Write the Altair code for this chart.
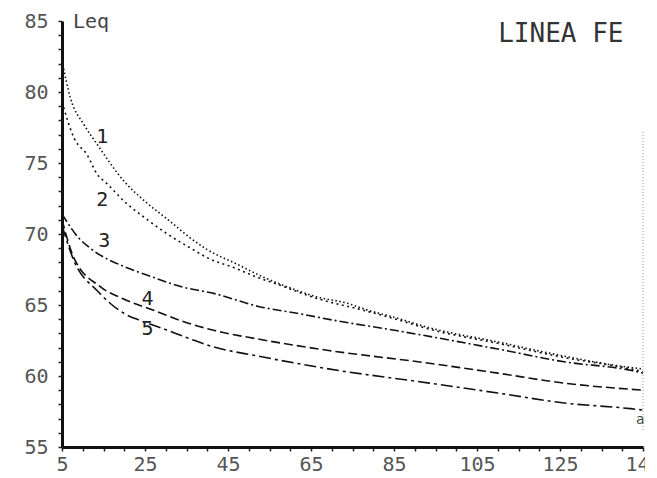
import altair as alt
import pandas as pd

# ---- data ----
c1_x = [5, 7, 10.3, 13.5, 20, 25, 31, 36, 40, 47, 54, 60, 66, 74, 78, 85.5, 93.5, 110, 126, 142, 145]
c1_y = [82.2, 79.6, 77.7, 76.3, 73.7, 72.3, 70.9, 69.7, 68.9, 67.9, 66.9, 66.2, 65.6, 65.1, 64.7, 64.1, 63.4, 62.4, 61.4, 60.6, 60.5]

c2_x = [5, 8, 11, 13.5, 16, 20, 25.6, 30.4, 36, 40.2, 46.7, 51.6, 56.5, 66, 78, 85.5, 93.5, 110, 126, 142, 145]
c2_y = [79.3, 76.7, 75.6, 74.2, 73.5, 72.3, 71.0, 70.0, 69.0, 68.3, 67.6, 67.0, 66.5, 65.5, 64.6, 64.0, 63.3, 62.3, 61.3, 60.5, 60.3]

c3_x = [5, 9.1, 11.8, 20, 25.6, 33.6, 41.8, 52.3, 62, 71, 85.5, 110, 126, 142, 145]
c3_y = [71.4, 69.7, 69.0, 67.7, 67.1, 66.3, 65.8, 64.9, 64.4, 63.9, 63.2, 61.9, 61.0, 60.4, 60.2]

c4_x = [5, 7.9, 14.2, 20, 27.3, 33.6, 41.8, 52.3, 69.2, 93.5, 110, 126, 145]
c4_y = [71.0, 68.3, 66.3, 65.4, 64.6, 63.9, 63.2, 62.6, 61.8, 60.9, 60.2, 59.5, 59.0]

c5_x = [5, 7.9, 13.5, 20, 23.9, 29.7, 36, 40.9, 52.3, 69.2, 93.5, 110, 126, 142, 145]
c5_y = [70.6, 68.1, 66.0, 64.4, 63.9, 63.3, 62.6, 62.1, 61.4, 60.5, 59.5, 58.8, 58.1, 57.7, 57.6]

curve_names = ["1", "2", "3", "4", "5"]
curve_dash = [[1.5, 2.5], [2, 3.5], [9, 3, 2, 3], [9, 4], [12, 4, 3, 4]]

label_text = ["1", "2", "3", "4", "5"]
label_x = [14.7, 14.7, 15.2, 25.6, 25.6]
label_y = [76.8, 72.4, 69.5, 65.4, 63.3]

x_ticks = list(range(5, 146, 5))
y_ticks = list(range(55, 86, 1))

ytitle_text = ["Leq"]
ytitle_x = [12.0]
ytitle_y = [84.9]

head_text = ["LINEA FE"]
head_x = [125.2]
head_y = [84.1]

end_text = ["a"]
end_x = [144.3]
end_y = [56.9]

border_x = [145]
border_y = [56.2]
border_y2 = [77.2]

# ---- chart ----
xscale = alt.Scale(domain=[5, 145], nice=False, zero=False)
yscale = alt.Scale(domain=[55, 85], nice=False, zero=False)

xaxis = alt.Axis(values=x_ticks, labelExpr="(datum.value - 5) % 20 === 0 ? datum.label : ''",
                 title=None, labelOverlap=False, labelFlush=False, labelPadding=3,
                 labelBound=False)
yaxis = alt.Axis(values=y_ticks, labelExpr="datum.value % 5 === 0 ? datum.label : ''",
                 title=None, labelOverlap=False, labelFlush=False, labelPadding=10,
                 labelBound=False)

X = alt.X("x:Q", scale=xscale, axis=xaxis)
Y = alt.Y("y:Q", scale=yscale, axis=yaxis)

layers = []
all_x = [c1_x, c2_x, c3_x, c4_x, c5_x]
all_y = [c1_y, c2_y, c3_y, c4_y, c5_y]
for name, xs, ys, dash in zip(curve_names, all_x, all_y, curve_dash):
    d = pd.DataFrame({"x": xs, "y": ys})
    layers.append(
        alt.Chart(d).mark_line(color="#111", strokeWidth=1.6, strokeDash=dash,
                               interpolate="monotone")
        .encode(x=X, y=Y)
    )

lab_df = pd.DataFrame({"x": label_x, "y": label_y, "t": label_text})
layers.append(
    alt.Chart(lab_df).mark_text(font="DejaVu Sans Mono", fontSize=20, color="#222",
                                align="center", baseline="middle")
    .encode(x=X, y=Y, text="t:N")
)

yt_df = pd.DataFrame({"x": ytitle_x, "y": ytitle_y, "t": ytitle_text})
layers.append(
    alt.Chart(yt_df).mark_text(font="DejaVu Sans Mono", fontSize=20, color="#444",
                               align="center", baseline="middle")
    .encode(x=X, y=Y, text="t:N")
)

hd_df = pd.DataFrame({"x": head_x, "y": head_y, "t": head_text})
layers.append(
    alt.Chart(hd_df).mark_text(font="DejaVu Sans Mono", fontSize=26, color="#333",
                               align="center", baseline="middle")
    .encode(x=X, y=Y, text="t:N")
)

end_df = pd.DataFrame({"x": end_x, "y": end_y, "t": end_text})
layers.append(
    alt.Chart(end_df).mark_text(font="DejaVu Sans Mono", fontSize=14, color="#444",
                                align="center", baseline="middle")
    .encode(x=X, y=Y, text="t:N")
)

bd_df = pd.DataFrame({"x": border_x, "y": border_y, "y2": border_y2})
layers.append(
    alt.Chart(bd_df).mark_rule(color="#999", strokeWidth=1, strokeDash=[1, 2])
    .encode(x=X, y=Y, y2="y2:Q")
)

chart = (
    alt.layer(*layers)
    .properties(width=581, height=426,
                padding={"left": 54, "top": 13, "right": 2, "bottom": 31},
                autosize=alt.AutoSizeParams(type="none"))
    .configure_view(stroke=None)
    .configure_axis(grid=False, domainWidth=3, domainColor="#111", tickColor="#222",
                    tickWidth=1.5, tickSize=4, labelFont="DejaVu Sans Mono",
                    labelFontSize=20, labelColor="#555")
)

chart.save("out.html", embed_options={"renderer": "svg", "actions": False})
